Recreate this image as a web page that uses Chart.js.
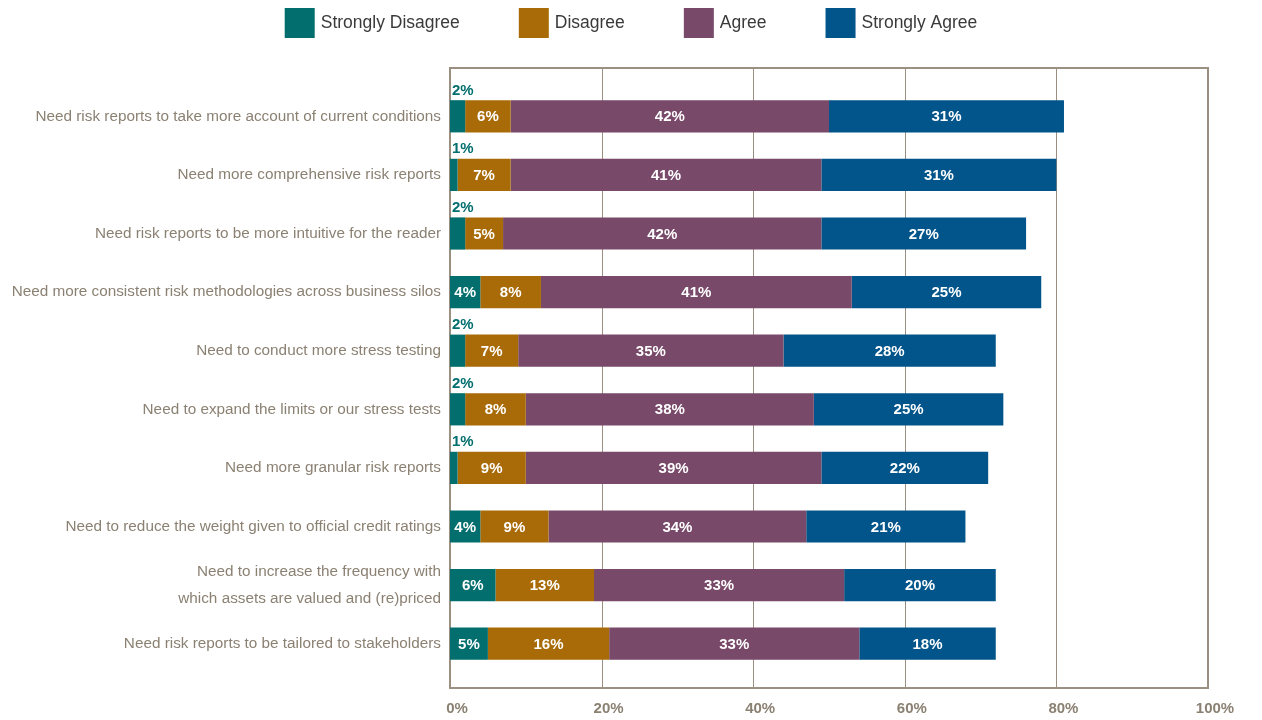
<!DOCTYPE html>
<html>
<head>
<meta charset="utf-8">
<script src="https://cdn.jsdelivr.net/npm/chart.js@4.4.1/dist/chart.umd.min.js"></script>
<style>
  html, body { margin: 0; padding: 0; background: #ffffff; }
  #wrap { width: 1262px; height: 720px; position: relative; }
</style>
</head>
<body>
<div id="wrap"><canvas id="surveyChart"></canvas></div>
<script>
const categories = [
  'Need risk reports to take more account of current conditions',
  'Need more comprehensive risk reports',
  'Need risk reports to be more intuitive for the reader',
  'Need more consistent risk methodologies across business silos',
  'Need to conduct more stress testing',
  'Need to expand the limits or our stress tests',
  'Need more granular risk reports',
  'Need to reduce the weight given to official credit ratings',
  ['Need to increase the frequency with', 'which assets are valued and (re)priced'],
  'Need risk reports to be tailored to stakeholders'
];

const stronglyDisagree = [2, 1, 2, 4, 2, 2, 1, 4, 6, 5];
const disagree = [6, 7, 5, 8, 7, 8, 9, 9, 13, 16];
const agree = [42, 41, 42, 41, 35, 38, 39, 34, 33, 33];
const stronglyAgree = [31, 31, 27, 25, 28, 25, 22, 21, 20, 18];

const xTicks = [0, 20, 40, 60, 80, 100];

const colors = {
  teal: '#036e6e',
  gold: '#a86b08',
  plum: '#784969',
  blue: '#02558a',
  frame: '#9a8f80',
  label: '#8b8173',
  legend: '#3a3a3a'
};

const font = '"Liberation Sans", Arial, sans-serif';

// legend row across the top: square swatch, then the series name
const topLegend = {
  id: 'topLegend',
  afterDraw(chart) {
    const { ctx } = chart;
    const box = 30, gapText = 6, gapItem = 59, boxTop = 8;
    ctx.save();
    ctx.font = '17.5px ' + font;
    const items = chart.data.datasets.map((ds) => ({
      text: ds.label,
      color: ds.backgroundColor,
      w: box + gapText + ctx.measureText(ds.label).width
    }));
    const total = items.reduce((s, it) => s + it.w, 0) + gapItem * (items.length - 1);
    let x = chart.width / 2 - total / 2;
    items.forEach((it) => {
      ctx.fillStyle = it.color;
      ctx.fillRect(x, boxTop, box, box);
      ctx.fillStyle = colors.legend;
      ctx.textAlign = 'left';
      ctx.textBaseline = 'middle';
      ctx.fillText(it.text, x + box + gapText, boxTop + box / 2);
      x += it.w + gapItem;
    });
    ctx.restore();
  }
};

// frame + vertical gridlines, taller than the category band
const framePlugin = {
  id: 'frame',
  beforeDatasetsDraw(chart) {
    const { ctx, chartArea, scales } = chart;
    const top = chartArea.top - 19;
    const bottom = chartArea.bottom + 15;
    ctx.save();
    ctx.strokeStyle = colors.frame;
    ctx.lineWidth = 1;
    xTicks.slice(1, -1).forEach((t) => {
      const x = Math.round(scales.x.getPixelForValue(t)) + 0.5;
      ctx.beginPath();
      ctx.moveTo(x, top);
      ctx.lineTo(x, bottom);
      ctx.stroke();
    });
    ctx.lineWidth = 2;
    const x0 = scales.x.getPixelForValue(0);
    const x1 = scales.x.getPixelForValue(100);
    ctx.strokeRect(x0, top, x1 - x0, bottom - top);
    ctx.restore();
  }
};

// percent labels on the segments; tiny first segments get theirs above the bar
const valueLabels = {
  id: 'valueLabels',
  afterDatasetsDraw(chart) {
    const { ctx } = chart;
    ctx.save();
    ctx.font = 'bold 15px ' + font;
    chart.data.datasets.forEach((ds, di) => {
      const meta = chart.getDatasetMeta(di);
      meta.data.forEach((bar, i) => {
        const v = ds.data[i];
        const left = Math.min(bar.base, bar.x);
        const right = Math.max(bar.base, bar.x);
        if (di === 0 && v < 3) {
          ctx.fillStyle = colors.teal;
          ctx.textAlign = 'left';
          ctx.textBaseline = 'bottom';
          ctx.fillText(v + '%', left + 2, bar.y - bar.height / 2 - 2);
        } else {
          ctx.fillStyle = '#ffffff';
          ctx.textAlign = 'center';
          ctx.textBaseline = 'middle';
          ctx.fillText(v + '%', (left + right) / 2, bar.y + 1);
        }
      });
    });
    ctx.restore();
  }
};

const makeSet = (label, data, color) => ({
  label,
  data,
  backgroundColor: color,
  borderWidth: 0,
  barPercentage: 0.55,
  categoryPercentage: 1
});

new Chart(document.getElementById('surveyChart'), {
  type: 'bar',
  data: {
    labels: categories,
    datasets: [
      makeSet('Strongly Disagree', stronglyDisagree, colors.teal),
      makeSet('Disagree', disagree, colors.gold),
      makeSet('Agree', agree, colors.plum),
      makeSet('Strongly Agree', stronglyAgree, colors.blue)
    ]
  },
  options: {
    indexAxis: 'y',
    responsive: true,
    maintainAspectRatio: false,
    animation: false,
    layout: { padding: { left: 0, right: 54, top: 87, bottom: 0 } },
    plugins: {
      legend: { display: false },
      tooltip: { enabled: false }
    },
    scales: {
      x: {
        stacked: true,
        min: 0,
        max: 100,
        afterBuildTicks: (scale) => { scale.ticks = xTicks.map((v) => ({ value: v })); },
        afterFit: (scale) => { scale.height = 47; },
        grid: { display: false, drawTicks: false },
        border: { display: false },
        ticks: {
          padding: 27,
          labelOffset: 7,
          color: colors.label,
          font: { family: font, size: 15, weight: 'bold' },
          callback: (v) => v + '%'
        }
      },
      y: {
        stacked: true,
        afterFit: (scale) => { scale.width = 450; },
        grid: { display: false, drawTicks: false },
        border: { display: false },
        ticks: {
          autoSkip: false,
          padding: 9,
          color: colors.label,
          font: { family: font, size: 15.3, lineHeight: 1.8 }
        }
      }
    }
  },
  plugins: [framePlugin, valueLabels, topLegend]
});
</script>
</body>
</html>
